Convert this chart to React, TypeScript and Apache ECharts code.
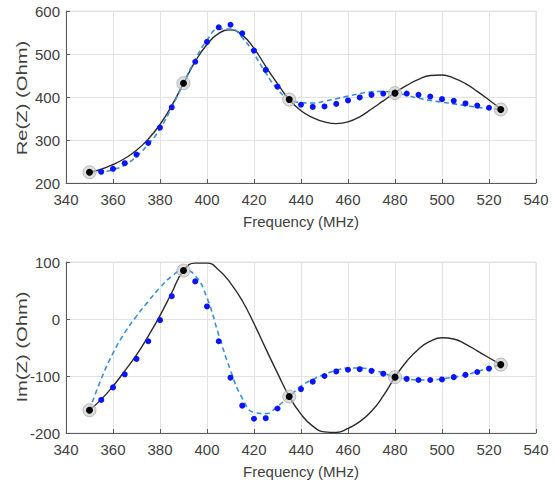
import React, { useEffect, useRef } from "react";
import * as echarts from "echarts";

const xTicks = [340, 540, 20];
const fitFreq = [350, 355, 360, 365, 370, 375, 380, 385, 390, 395, 400, 405, 410, 415, 420, 425, 430, 435, 440, 445, 450, 455, 460, 465, 470, 475, 480, 485, 490, 495, 500, 505, 510, 515, 520, 525];
const reFit = [225, 232, 243, 257, 276, 302, 336, 380, 432, 483, 522, 548, 556, 544, 513, 471, 431, 394, 368, 352, 342, 338, 342, 354, 372, 391, 410, 427, 441, 450, 451, 444, 431, 413, 393, 372];
const reModel = [225, 226, 231, 242, 262, 290, 326, 376, 432, 487, 532, 558, 558, 538, 500, 456, 418, 395, 387, 386, 390, 396, 402, 408, 412, 413, 410, 404, 397, 392, 388, 384, 380, 376, 373, 371];
const imFit = [-160, -141, -118, -91, -63, -30, 6, 46, 85, 98, 98, 86, 63, 32, -8, -52, -95, -136, -167, -188, -198, -199, -192, -180, -162, -135, -102, -74, -53, -39, -33, -35, -44, -56, -68, -80];
const imModel = [-160, -105, -60, -24, 5, 31, 55, 75, 86, 76, 37, -28, -90, -139, -164, -166, -153, -136, -118, -106, -97, -90, -86, -86, -89, -95, -102, -105, -107, -107, -105, -102, -98, -92, -86, -80];

const measFreq = [355, 360, 365, 370, 375, 380, 385, 395, 400, 405, 410, 415, 420, 425, 430, 440, 445, 450, 455, 460, 465, 470, 475, 485, 490, 495, 500, 505, 510, 515, 520];
const reMeas = [226, 233, 246, 266, 293, 329, 376, 482, 528, 562, 568, 548, 508, 463, 424, 382, 377, 378, 384, 392, 399, 405, 408, 408, 405, 401, 395, 391, 385, 380, 375];
const imMeas = [-142, -120, -97, -70, -39, -2, 40, 66, 22, -39, -103, -152, -175, -174, -157, -123, -110, -100, -92, -89, -88, -91, -96, -105, -107, -107, -106, -102, -98, -93, -87];

const keyFreq = [350, 390, 435, 480, 525];
const reKey = [225, 432, 394, 409, 371];
const imKey = [-160, 85, -136, -102, -80];

const reTicks = [200, 600, 100];
const imTicks = [-200, 100, 100];

const FONT = '"Liberation Sans", Arial, sans-serif';
const TEXT = "#404040";

function zip(xs: number[], ys: number[]) {
  return xs.map((x, i) => [x, ys[i]]);
}

export default function App() {
  const ref = useRef<HTMLDivElement>(null);
  useEffect(() => {
    if (!ref.current) return;
    const chart = echarts.init(ref.current, undefined, { renderer: "svg" });
    const grids = [
      { left: 66, top: 11, width: 470, height: 172 },
      { left: 66, top: 262, width: 470, height: 171 },
    ];
    const xAxis = [0, 1].map((g) => ({
      type: "value",
      gridIndex: g,
      min: xTicks[0],
      max: xTicks[1],
      interval: xTicks[2],
      name: "Frequency (MHz)",
      nameLocation: "middle",
      nameGap: 31,
      nameTextStyle: { fontFamily: FONT, fontSize: 15, color: TEXT },
      axisLine: { show: true, onZero: false, lineStyle: { color: "#5a5a5a", width: 1 } },
      axisTick: { show: true, inside: true, length: 4, lineStyle: { color: "#5a5a5a" } },
      axisLabel: { fontFamily: FONT, fontSize: 15, color: TEXT, margin: 9 },
      splitLine: { show: true, lineStyle: { color: "#e3e3e3", width: 1 } },
    }));
    const yr = [reTicks, imTicks];
    const yAxis = [0, 1].map((g) => ({
      type: "value",
      gridIndex: g,
      min: yr[g][0],
      max: yr[g][1],
      interval: yr[g][2],
      axisLine: { show: true, onZero: false, lineStyle: { color: "#5a5a5a", width: 1 } },
      axisTick: { show: true, inside: true, length: 4, lineStyle: { color: "#5a5a5a" } },
      axisLabel: { fontFamily: FONT, fontSize: 15, color: TEXT, margin: 6 },
      splitLine: { show: true, lineStyle: { color: "#e3e3e3", width: 1 } },
    }));
    const sets = [
      { fit: reFit, model: reModel, meas: reMeas, key: reKey },
      { fit: imFit, model: imModel, meas: imMeas, key: imKey },
    ];
    const series: any[] = [];
    sets.forEach((s, g) => {
      series.push({
        type: "line",
        xAxisIndex: g,
        yAxisIndex: g,
        data: zip(fitFreq, s.fit),
        smooth: 0.5,
        symbol: "none",
        lineStyle: { color: "#2a2a2a", width: 1.4 },
        z: 3,
      });
      series.push({
        type: "line",
        xAxisIndex: g,
        yAxisIndex: g,
        data: zip(fitFreq, s.model),
        smooth: 0.5,
        symbol: "none",
        lineStyle: { color: "#3a8fd9", width: 1.6, type: [5, 3.5] },
        z: 4,
      });
      series.push({
        type: "scatter",
        xAxisIndex: g,
        yAxisIndex: g,
        data: zip(measFreq, s.meas),
        symbol: "circle",
        symbolSize: 6,
        itemStyle: { color: "#0a14ff", opacity: 1 },
        z: 5,
      });
      series.push({
        type: "scatter",
        xAxisIndex: g,
        yAxisIndex: g,
        data: zip(keyFreq, s.key),
        symbol: "circle",
        symbolSize: 13,
        itemStyle: { color: "rgba(200,200,200,0.6)", borderColor: "#b8b8b8", borderWidth: 1, opacity: 1 },
        z: 6,
      });
      series.push({
        type: "scatter",
        xAxisIndex: g,
        yAxisIndex: g,
        data: zip(keyFreq, s.key),
        symbol: "circle",
        symbolSize: 7,
        itemStyle: { color: "#000000", opacity: 1 },
        z: 7,
      });
    });
    const yName = (text: string, y: number) => ({
      type: "text",
      x: 22,
      y,
      rotation: Math.PI / 2,
      scaleX: 1.35,
      scaleY: 1,
      silent: true,
      style: {
        text,
        font: `15px ${FONT}`,
        fill: TEXT,
        align: "center",
        verticalAlign: "middle",
        textAlign: "center",
        textVerticalAlign: "middle",
      },
    });
    chart.setOption({
      animation: false,
      backgroundColor: "#ffffff",
      grid: grids.map((gr) => ({ ...gr, show: true, borderColor: "#dcdcdc", borderWidth: 1, backgroundColor: "transparent" })),
      xAxis,
      yAxis,
      series,
      graphic: [yName("Re(Z) (Ohm)", 98), yName("Im(Z) (Ohm)", 347)],
    });
    return () => chart.dispose();
  }, []);
  return <div ref={ref} style={{ position: "absolute", left: 0, top: 0, width: 554, height: 487 }} />;
}
